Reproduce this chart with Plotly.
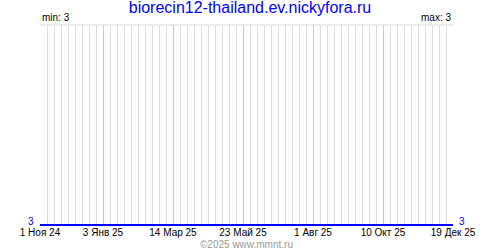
import pandas as pd
import plotly.graph_objects as go

title = "biorecin12-thailand.ev.nickyfora.ru"
dates = ["2024-11-01", "2025-12-19"]
values = [3, 3]
tick_dates = ["2024-11-01", "2025-01-03", "2025-03-14", "2025-05-23",
              "2025-08-01", "2025-10-10", "2025-12-19"]
tick_labels = ["1 Ноя 24", "3 Янв 25", "14 Мар 25", "23 Май 25",
               "1 Авг 25", "10 Окт 25", "19 Дек 25"]
copyright_text = "©2025 www.mmnt.ru"

FONT = "Liberation Sans"
BLUE = "#0000ff"

# weekly grid positions (axis decoration), skipping the labelled ones
weeks = pd.date_range(dates[0], dates[-1], freq="7D").strftime("%Y-%m-%d")
week_grid = [d for d in weeks if d not in tick_dates]

fig = go.Figure()
fig.add_trace(go.Scatter(x=dates, y=values, mode="lines",
                         line=dict(color=BLUE, width=2), hoverinfo="skip"))

vmin, vmax = min(values), max(values)

fig.update_layout(
    width=500, height=250,
    margin=dict(l=40, r=47, t=25, b=24, pad=0),
    paper_bgcolor="white", plot_bgcolor="white",
    showlegend=False,
    title=dict(text=title, x=0.5, xanchor="center", y=1 - 7.5 / 250,
               yanchor="middle", yref="container", pad=dict(t=0, b=0),
               font=dict(family=FONT, size=16, color=BLUE)),
    xaxis=dict(
        type="date",
        range=[dates[0], dates[-1]],
        tickmode="array", tickvals=tick_dates, ticktext=tick_labels,
        showgrid=True, gridcolor="#ffb0b0", gridwidth=1,
        ticks="", showline=False, zeroline=False, ticklabelstandoff=-1,
        tickfont=dict(family=FONT, size=10, color="black"),
        minor=dict(tickmode="array", tickvals=week_grid, showgrid=True,
                   gridcolor="#dcdcdc", gridwidth=1, ticks=""),
    ),
    yaxis=dict(range=[vmin - 0.005, vmin + 1], showgrid=False, zeroline=False,
               showticklabels=False, ticks="", showline=False),
    annotations=[
        dict(text=f"min: {vmin}", x=0, xref="paper", xanchor="left",
             y=1, yref="paper", yanchor="bottom", yshift=0, showarrow=False,
             font=dict(family=FONT, size=10, color="black")),
        dict(text=f"max: {vmax}", x=1, xref="paper", xanchor="right",
             y=1, yref="paper", yanchor="bottom", yshift=0, showarrow=False,
             font=dict(family=FONT, size=10, color="black")),
        dict(text=str(values[0]), x=0, xref="paper", xanchor="right",
             y=values[0], yref="y", yanchor="middle", xshift=-4, yshift=4,
             showarrow=False, font=dict(family=FONT, size=10, color=BLUE)),
        dict(text=str(values[-1]), x=1, xref="paper", xanchor="left",
             y=values[-1], yref="y", yanchor="middle", xshift=4, yshift=4,
             showarrow=False, font=dict(family=FONT, size=10, color=BLUE)),
        dict(text=copyright_text, x=0.5, xref="paper", xanchor="center",
             y=-0.09, yref="paper", yanchor="middle", showarrow=False,
             font=dict(family=FONT, size=10, color="#999999")),
    ],
    shapes=[dict(type="line", xref="paper", yref="paper", x0=0, x1=1,
                 y0=1, y1=1, line=dict(color="#dcdcdc", width=1))],
)

fig.write_html("out.html")
